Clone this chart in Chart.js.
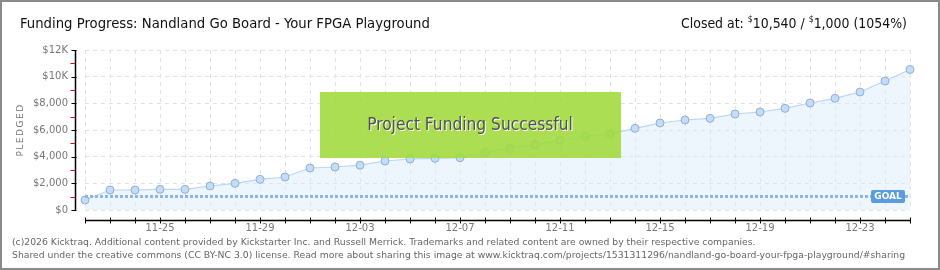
<!DOCTYPE html>
<html>
<head>
<meta charset="utf-8">
<script src="https://cdn.jsdelivr.net/npm/chart.js@4/dist/chart.umd.min.js"></script>
<style>
  html, body { margin: 0; padding: 0; background: #fff; }
  canvas { display: block; }
</style>
</head>
<body>
<canvas id="chart" width="940" height="270"></canvas>
<script>
// data
const days = [
  '11-22', '11-23', '11-24', '11-25', '11-26', '11-27', '11-28', '11-29', '11-30',
  '12-01', '12-02', '12-03', '12-04', '12-05', '12-06', '12-07', '12-08', '12-09',
  '12-10', '12-11', '12-12', '12-13', '12-14', '12-15', '12-16', '12-17', '12-18',
  '12-19', '12-20', '12-21', '12-22', '12-23', '12-24', '12-25'
];
const pledged = [
  750, 1500, 1500, 1550, 1550, 1800, 2000, 2300, 2475,
  3150, 3225, 3360, 3675, 3825, 3875, 3925, 4300, 4625,
  4900, 5225, 5550, 5700, 6125, 6525, 6750, 6875, 7200,
  7350, 7625, 8025, 8375, 8850, 9675, 10540
];
const yTicks = [0, 2000, 4000, 6000, 8000, 10000, 12000];
const goal = 1000;

const titleText = 'Funding Progress: Nandland Go Board - Your FPGA Playground';
const footerLines = [
  '(c)2026 Kicktraq. Additional content provided by Kickstarter Inc. and Russell Merrick. Trademarks and related content are owned by their respective companies.',
  'Shared under the creative commons (CC BY-NC 3.0) license. Read more about sharing this image at www.kicktraq.com/projects/1531311296/nandland-go-board-your-fpga-playground/#sharing'
];

const narrow = "'Liberation Sans Narrow', 'DejaVu Sans Condensed', sans-serif";

function fmtMoney(v) {
  if (v >= 10000) return '$' + (v / 1000) + 'K';
  return '$' + v.toLocaleString('en-US');
}

// pick a font size so that text spans about the given width
function fitSize(ctx, text, family, base, width) {
  ctx.font = base + 'px ' + family;
  const w = ctx.measureText(text).width;
  return base * width / w;
}

/**
 * Frame, title, footer, offset axes, goal line and the success banner.
 */
const decorPlugin = {
  id: 'decor',
  afterDraw(chart) {
    const ctx = chart.ctx;
    const area = chart.chartArea;
    const xs = chart.scales.x;
    const ys = chart.scales.y;
    ctx.save();

    // goal line
    const gy = Math.round(ys.getPixelForValue(goal)) - 0.5;
    ctx.strokeStyle = '#8db6e6';
    ctx.lineWidth = 3;
    ctx.setLineDash([3, 2]);
    ctx.beginPath();
    ctx.moveTo(area.left, gy);
    ctx.lineTo(area.right, gy);
    ctx.stroke();
    ctx.setLineDash([]);

    // GOAL tag
    ctx.fillStyle = '#5b9be0';
    ctx.beginPath();
    ctx.roundRect(area.right - 39, gy - 6.5, 34, 13, 2);
    ctx.fill();
    ctx.fillStyle = '#fff';
    ctx.font = 'bold 9px "DejaVu Sans", sans-serif';
    ctx.textAlign = 'center';
    ctx.textBaseline = 'middle';
    ctx.fillText('GOAL', area.right - 22, gy + 0.5);

    // y axis line + ticks (set a little left of the plot)
    const ax = area.left - 9.5;
    ctx.strokeStyle = '#000';
    ctx.lineWidth = 1.5;
    ctx.beginPath();
    ctx.moveTo(ax, area.top);
    ctx.lineTo(ax, area.bottom);
    ctx.stroke();
    ctx.lineWidth = 1;
    yTicks.forEach(v => {
      const y = Math.round(ys.getPixelForValue(v)) + 0.5;
      ctx.beginPath();
      ctx.moveTo(ax - 4, y);
      ctx.lineTo(ax + 1, y);
      ctx.stroke();
    });
    ctx.strokeStyle = '#e00000';
    for (let i = 0; i < yTicks.length - 1; i++) {
      const y = Math.round(ys.getPixelForValue((yTicks[i] + yTicks[i + 1]) / 2)) + 0.5;
      ctx.beginPath();
      ctx.moveTo(ax - 5, y);
      ctx.lineTo(ax - 0.5, y);
      ctx.stroke();
    }

    // x axis line + ticks (set a little below the plot)
    const bx = area.bottom + 10.5;
    ctx.strokeStyle = '#000';
    ctx.lineWidth = 1.5;
    ctx.beginPath();
    ctx.moveTo(area.left, bx);
    ctx.lineTo(area.right, bx);
    ctx.stroke();
    ctx.lineWidth = 1;
    days.forEach((d, i) => {
      const x = Math.round(xs.getPixelForValue(i)) + 0.5;
      ctx.beginPath();
      ctx.moveTo(x, bx - 3);
      ctx.lineTo(x, bx + 3);
      ctx.stroke();
    });

    // axis title
    ctx.fillStyle = '#777';
    ctx.font = '9px "DejaVu Sans", sans-serif';
    ctx.translate(21, (area.top + area.bottom) / 2);
    ctx.rotate(-Math.PI / 2);
    ctx.letterSpacing = '1.5px';
    ctx.textAlign = 'center';
    ctx.fillText('PLEDGED', 0, 0);
    ctx.setTransform(1, 0, 0, 1, 0, 0);
    ctx.letterSpacing = '0px';

    // success banner
    const cx = chart.width / 2;
    ctx.fillStyle = 'rgba(160, 218, 60, 0.88)';
    ctx.fillRect(cx - 150, 92, 301, 66);
    const bs = fitSize(ctx, 'Project Funding Successful', narrow, 18, 206);
    ctx.font = bs + 'px ' + narrow;
    ctx.textAlign = 'center';
    ctx.textBaseline = 'middle';
    ctx.fillStyle = '#fff';
    ctx.fillText('Project Funding Successful', cx + 1, 127);
    ctx.fillStyle = '#505050';
    ctx.fillText('Project Funding Successful', cx, 126);

    // title
    ctx.textAlign = 'left';
    ctx.fillStyle = '#111';
    const ts = fitSize(ctx, titleText, narrow, 16, 410);
    ctx.font = ts + 'px ' + narrow;
    ctx.fillText(titleText, 20, 24);

    // closed-at summary, right aligned with small raised dollar signs
    const parts = [
      ['Closed at: ', false], ['$', true], ['10,540 / ', false],
      ['$', true], ['1,000 (1054%)', false]
    ];
    const big = ts + 'px ' + narrow;
    const small = (ts * 0.62) + 'px ' + narrow;
    let total = 0;
    parts.forEach(p => { ctx.font = p[1] ? small : big; total += ctx.measureText(p[0]).width; });
    // squeeze to the reference span (681 -> 907) if wider
    const k = Math.min(1, 226 / total);
    let px = 907 - total * k;
    ctx.translate(px, 0);
    ctx.scale(k, 1);
    px = 0;
    parts.forEach(p => {
      ctx.font = p[1] ? small : big;
      ctx.fillText(p[0], px, p[1] ? 20 : 24);
      px += ctx.measureText(p[0]).width;
    });
    ctx.setTransform(1, 0, 0, 1, 0, 0);

    // footer
    ctx.fillStyle = '#666';
    const fam = '"DejaVu Sans", sans-serif';
    const fs = fitSize(ctx, footerLines[1], fam, 10, 895);
    ctx.font = fs + 'px ' + fam;
    ctx.fillText(footerLines[0], 12, 243);
    ctx.fillText(footerLines[1], 12, 256);

    // frame
    ctx.strokeStyle = '#8a8a8a';
    ctx.lineWidth = 2;
    ctx.strokeRect(1, 1, chart.width - 2, chart.height - 2);
    ctx.restore();
  }
};

new Chart(document.getElementById('chart'), {
  type: 'line',
  data: {
    labels: days,
    datasets: [{
      data: pledged,
      borderColor: '#b9d5f2',
      borderWidth: 1.2,
      backgroundColor: 'rgba(214, 232, 250, 0.45)',
      fill: 'origin',
      tension: 0,
      pointRadius: 4,
      pointBackgroundColor: '#c4dcf5',
      pointBorderColor: '#8fb0d6',
      pointBorderWidth: 1
    }]
  },
  options: {
    responsive: false,
    animation: false,
    layout: { padding: { left: 0, right: 30, top: 50, bottom: 0 } },
    plugins: {
      legend: { display: false },
      tooltip: { enabled: false }
    },
    scales: {
      x: {
        afterFit(scale) { scale.height = 60; },
        grid: { color: '#e2e2e2', drawTicks: false },
        border: { display: false, dash: [4, 4] },
        ticks: {
          autoSkip: false,
          maxRotation: 0,
          padding: 12,
          color: '#777',
          font: { family: 'DejaVu Sans', size: 10 },
          callback(v, i) { return i % 4 === 3 ? days[i] : ''; }
        }
      },
      y: {
        min: 0,
        max: 12000,
        afterFit(scale) { scale.width = 85; },
        afterBuildTicks(scale) { scale.ticks = yTicks.map(v => ({ value: v })); },
        grid: { color: '#e2e2e2', drawTicks: false },
        border: { display: false, dash: [4, 4] },
        ticks: {
          padding: 17,
          color: '#777',
          font: { family: 'DejaVu Sans', size: 10 },
          callback(v) { return fmtMoney(v); }
        }
      }
    }
  },
  plugins: [decorPlugin]
});
</script>
</body>
</html>
